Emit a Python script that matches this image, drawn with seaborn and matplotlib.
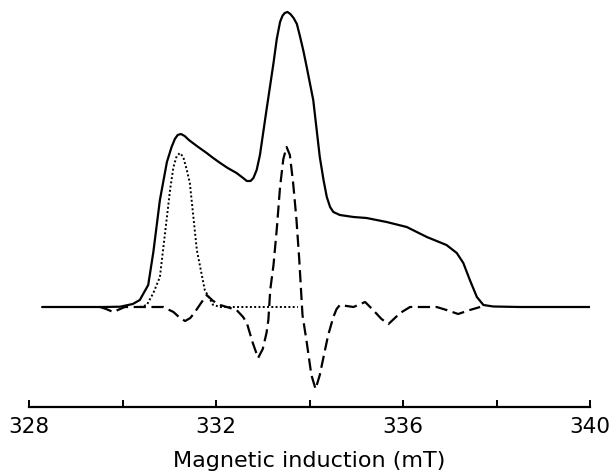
import matplotlib
matplotlib.use("Agg")
import matplotlib.pyplot as plt
import seaborn as sns
import pandas as pd

# Total EPR spectrum (solid)
total_B = [328.28, 329.00, 329.60, 329.95, 330.22, 330.37, 330.55, 330.66, 330.80,
           330.95, 331.05, 331.12, 331.18, 331.25, 331.33, 331.42, 331.59, 331.80,
           331.94, 332.09, 332.25, 332.44, 332.58, 332.66, 332.74, 332.80, 332.87,
           332.94, 333.08, 333.16, 333.23, 333.30, 333.37, 333.42, 333.47, 333.53,
           333.59, 333.66, 333.73, 333.80, 333.87, 333.94, 334.08, 334.22, 334.30,
           334.37, 334.44, 334.51, 334.65, 334.94, 335.22, 335.65, 336.08, 336.51,
           336.93, 337.15, 337.29, 337.43, 337.58, 337.72, 337.93, 338.5, 339.2, 340.0]
total_I = [0, 0, 0, 0.3, 3, 7, 22, 55, 107,
           145, 160, 168, 172, 173, 171, 167, 161, 154,
           149, 144, 139, 134, 129, 126, 126, 129, 137,
           152, 197, 222, 244, 268, 285, 291, 294, 295,
           293, 289, 283, 270, 256, 240, 207, 150, 127,
           110, 100, 95, 92, 90, 89, 85, 80, 70,
           62, 54, 44, 27, 10, 2, 0.5, 0, 0, 0]

# Component 1 (dotted)
comp1_B = [330.37, 330.52, 330.66, 330.80, 330.95, 331.02, 331.09, 331.16, 331.23,
           331.30, 331.37, 331.44, 331.59, 331.76, 331.94, 332.10, 332.6, 333.2, 333.75]
comp1_I = [0, 2, 14, 30, 90, 118, 140, 151, 154,
           150, 138, 124, 57, 17, 2, 0, 0, 0, 0]

# Component 2 (dashed)
comp2_B = [329.52, 329.65, 329.80, 329.95, 330.05, 330.50, 330.87, 331.09, 331.23,
           331.34, 331.45, 331.55, 331.68, 331.80, 331.94, 332.09, 332.44, 332.58,
           332.66, 332.78, 332.90, 333.00, 333.08, 333.12, 333.16, 333.23, 333.30,
           333.37, 333.44, 333.51, 333.58, 333.65, 333.72, 333.78, 333.85, 333.94,
           334.04, 334.13, 334.22, 334.30, 334.40, 334.51, 334.58, 334.65, 334.94,
           335.19, 335.36, 335.54, 335.69, 335.94, 336.15, 336.72, 336.93, 337.18,
           337.43, 337.65]
comp2_I = [0, -2, -5, -2, 0, 0, 0, -5, -11,
           -14, -11, -5, 4, 12, 6, 2, -3, -10,
           -16, -35, -51, -42, -26, -13, 17, 42, 78,
           120, 148, 160, 152, 124, 88, 48, -8, -35,
           -68, -82, -68, -50, -28, -10, -2, 2, 0,
           5, -3, -12, -17, -6, 0, 0, -3, -7,
           -3, 0]

df_total = pd.DataFrame({"B": total_B, "I": total_I})
df_c1 = pd.DataFrame({"B": comp1_B, "I": comp1_I})
df_c2 = pd.DataFrame({"B": comp2_B, "I": comp2_I})

sns.set_style("white")
plt.rcParams['font.family'] = ['DejaVu Sans']
plt.rcParams['text.color'] = 'black'
plt.rcParams['xtick.color'] = 'black'
plt.rcParams['axes.labelcolor'] = 'black'

fig = plt.figure(figsize=(6.14, 4.72), dpi=100)
ax = fig.add_axes([29/614, 1 - 407/472, (590 - 29)/614, (407 - 5)/472])

sns.lineplot(data=df_total, x="B", y="I", ax=ax, color="black", lw=1.6, sort=True)
sns.lineplot(data=df_c2, x="B", y="I", ax=ax, color="black", lw=1.6, sort=True)
ax.lines[-1].set_dashes([5.5, 2.5])
sns.lineplot(data=df_c1, x="B", y="I", ax=ax, color="black", lw=1.4, sort=True)
ax.lines[-1].set_dashes([1, 1.2])

ax.set_xlim(328, 340)
ax.set_ylim(-100, 302)
ax.set_xticks([328, 330, 332, 334, 336, 338, 340])
ax.set_xticklabels(["328", "", "332", "", "336", "", "340"], fontsize=15.5, color="black")
ax.set_yticks([])
ax.set_ylabel("")
ax.set_xlabel("Magnetic induction (mT)", fontsize=16, labelpad=10, color="black")
for s in ["top", "right", "left"]:
    ax.spines[s].set_visible(False)
ax.spines["bottom"].set_color("black")
ax.spines["bottom"].set_linewidth(1.6)
ax.tick_params(axis="x", direction="in", length=5, width=1.4, color="black",
               pad=7, bottom=True)
ax.patch.set_alpha(0)

fig.savefig("out.png", dpi=100)
